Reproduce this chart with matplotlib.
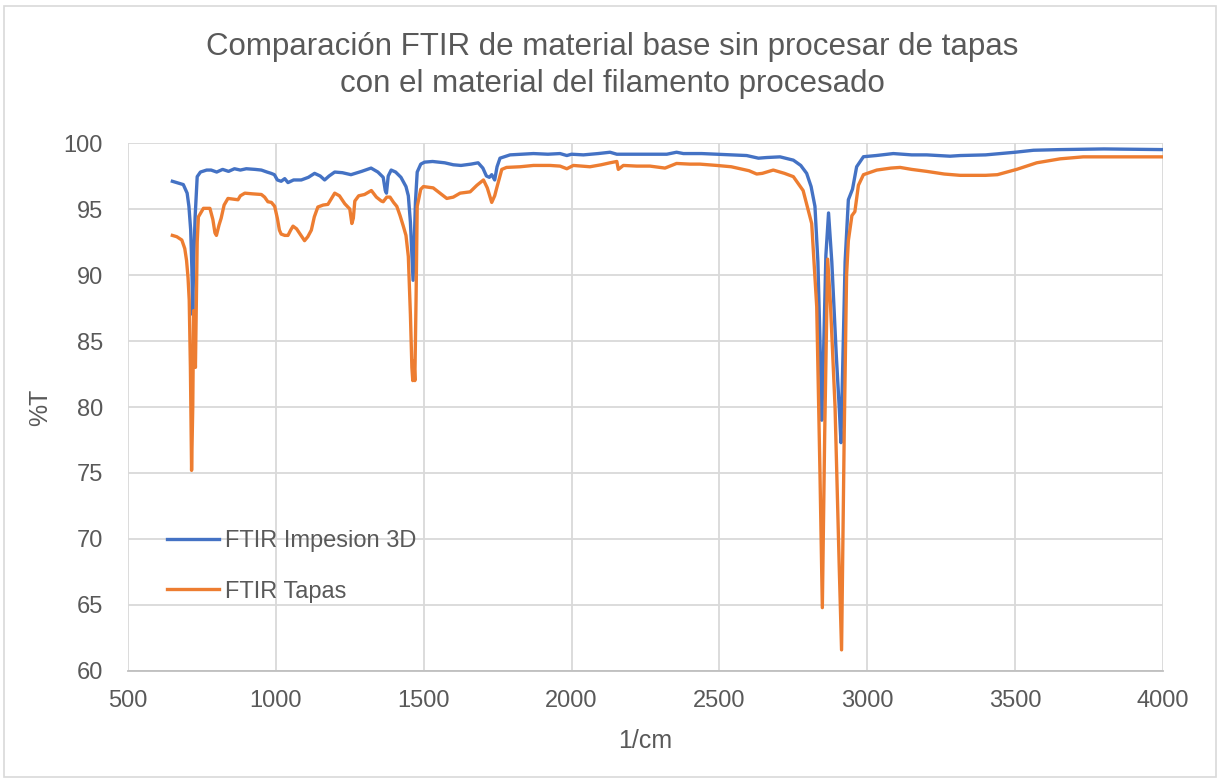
import matplotlib
matplotlib.use("Agg")
import matplotlib.pyplot as plt
from matplotlib.patches import Rectangle

# wavenumber (1/cm) and %T
impresion_x = [650, 665, 687, 700, 706, 712, 716, 719, 722, 727, 734, 745, 766, 781, 800,
               820, 840, 860, 880, 900, 930, 951, 970, 984, 995, 1005, 1018, 1030, 1041,
               1060, 1086, 1110, 1131, 1150, 1165, 1180, 1199, 1225, 1254, 1290, 1322,
               1345, 1363, 1370, 1374, 1380, 1390, 1405, 1423, 1440, 1448, 1455, 1460,
               1464, 1468, 1472, 1478, 1490, 1503, 1530, 1571, 1600, 1626, 1660, 1684,
               1700, 1712, 1722, 1730, 1740, 1748, 1758, 1792, 1830, 1871, 1920, 1961,
               1984, 2000, 2040, 2090, 2130, 2153, 2200, 2265, 2322, 2355, 2378, 2440,
               2491, 2547, 2592, 2632, 2660, 2705, 2750, 2775, 2795, 2810, 2823, 2833,
               2840, 2846, 2852, 2860, 2869, 2880, 2895, 2905, 2911, 2918, 2925, 2936,
               2950, 2964, 2987, 3030, 3088, 3150, 3201, 3280, 3314, 3400, 3449, 3500,
               3562, 3652, 3800, 4000]
impresion_t = [97.1, 97.0, 96.85, 96.2, 95.2, 93.4, 90.5, 87.0, 91.0, 94.4, 97.45, 97.8,
               97.95, 97.95, 97.8, 98.0, 97.85, 98.05, 97.95, 98.05, 98.0, 97.95, 97.8,
               97.7, 97.6, 97.2, 97.1, 97.3, 97.0, 97.2, 97.2, 97.4, 97.7, 97.5, 97.2,
               97.5, 97.8, 97.75, 97.6, 97.85, 98.1, 97.8, 97.4, 96.4, 96.2, 97.5, 97.95,
               97.8, 97.4, 96.7, 96.0, 94.0, 91.5, 89.6, 92.5, 95.5, 97.8, 98.4, 98.55,
               98.6, 98.5, 98.35, 98.3, 98.4, 98.5, 98.1, 97.5, 97.4, 97.6, 97.2, 98.2,
               98.85, 99.1, 99.15, 99.2, 99.15, 99.2, 99.05, 99.15, 99.1, 99.2, 99.3,
               99.15, 99.15, 99.15, 99.15, 99.3, 99.2, 99.2, 99.15, 99.1, 99.05, 98.85,
               98.9, 98.95, 98.7, 98.3, 97.7, 96.7, 95.2, 91.0, 85.0, 79.0, 84.0, 91.5,
               94.7, 91.0, 84.0, 80.0, 77.3, 84.0, 91.0, 95.7, 96.5, 98.2, 98.96, 99.05,
               99.2, 99.1, 99.1, 99.0, 99.05, 99.1, 99.2, 99.3, 99.45, 99.5, 99.55, 99.5]

tapas_x = [650, 665, 682, 692, 698, 703, 707, 711, 715, 719, 722, 725, 728, 731, 734, 738,
           755, 777, 787, 794, 799, 808, 815, 825, 838, 855, 872, 880, 895, 920, 951, 962,
           973, 985, 996, 1005, 1012, 1018, 1030, 1041, 1050, 1058, 1070, 1085, 1097,
           1108, 1120, 1130, 1142, 1160, 1176, 1188, 1199, 1215, 1233, 1250, 1257, 1262,
           1267, 1280, 1300, 1323, 1340, 1357, 1363, 1375, 1386, 1398, 1409, 1420, 1431,
           1440, 1448, 1455, 1460, 1463, 1467, 1470, 1474, 1478, 1490, 1499, 1532, 1555,
           1578, 1600, 1623, 1657, 1680, 1702, 1715, 1730, 1740, 1747, 1764, 1780, 1826,
           1871, 1927, 1961, 1984, 2006, 2062, 2100, 2130, 2153, 2158, 2175, 2220, 2265,
           2316, 2355, 2400, 2434, 2491, 2540, 2570, 2600, 2626, 2645, 2682, 2720, 2750,
           2783, 2812, 2829, 2840, 2848, 2856, 2866, 2875, 2891, 2905, 2913, 2922, 2930,
           2936, 2948, 2958, 2970, 2987, 3032, 3080, 3111, 3150, 3201, 3260, 3314, 3400,
           3440, 3505, 3573, 3652, 3730, 4000]
tapas_t = [93.0, 92.9, 92.65, 92.0, 91.1, 89.8, 88.1, 83.0, 75.2, 80.0, 87.3, 85.0, 83.0,
           88.0, 92.5, 94.4, 95.05, 95.05, 94.2, 93.2, 93.0, 93.8, 94.3, 95.3, 95.8, 95.75,
           95.7, 96.0, 96.2, 96.15, 96.1, 95.9, 95.55, 95.5, 95.2, 94.3, 93.4, 93.1, 93.0,
           93.0, 93.4, 93.7, 93.5, 93.0, 92.6, 92.9, 93.4, 94.4, 95.15, 95.3, 95.35, 95.8,
           96.2, 96.0, 95.4, 95.0, 93.9, 94.3, 95.6, 96.0, 96.1, 96.4, 95.9, 95.6, 95.55,
           95.9, 95.9, 95.5, 95.2, 94.5, 93.7, 93.0, 91.4, 87.0, 83.0, 82.0, 83.5, 82.0,
           88.0, 95.2, 96.5, 96.7, 96.6, 96.2, 95.8, 95.9, 96.2, 96.3, 96.8, 97.2, 96.6,
           95.5, 96.0, 96.6, 98.0, 98.15, 98.2, 98.3, 98.3, 98.25, 98.05, 98.3, 98.2,
           98.35, 98.5, 98.6, 98.0, 98.3, 98.25, 98.25, 98.1, 98.45, 98.4, 98.4, 98.3,
           98.2, 98.05, 97.9, 97.65, 97.7, 97.95, 97.7, 97.45, 96.4, 93.9, 87.6, 75.0,
           64.8, 78.0, 91.2, 88.0, 80.0, 68.0, 61.6, 78.0, 90.0, 92.6, 94.5, 94.8, 96.8,
           97.6, 97.95, 98.1, 98.15, 98.0, 97.85, 97.65, 97.55, 97.55, 97.6, 98.0, 98.5,
           98.8, 98.95, 98.95]

x_ticks = [500, 1000, 1500, 2000, 2500, 3000, 3500, 4000]
y_ticks = [60, 65, 70, 75, 80, 85, 90, 95, 100]

TEXT = "#595959"
GRID = "#d9d9d9"
plt.rcParams["font.family"] = ["Liberation Sans", "DejaVu Sans"]

fig = plt.figure(figsize=(12.24, 7.8), dpi=100)
ax = fig.add_axes([128 / 1224, 1 - 671 / 780, (1163 - 128) / 1224, (671 - 143) / 780])

ax.plot(impresion_x, impresion_t, color="#4472C4", lw=2.4, label="FTIR Impesion 3D",
        solid_joinstyle="round")
ax.plot(tapas_x, tapas_t, color="#ED7D31", lw=2.4, label="FTIR Tapas",
        solid_joinstyle="round")

ax.set_xlim(500, 4000)
ax.set_ylim(60, 100)
ax.set_xticks(x_ticks)
ax.set_yticks(y_ticks)
ax.grid(True, color=GRID, lw=1.3)
ax.set_axisbelow(True)
for side in ["top", "right", "left"]:
    ax.spines[side].set_visible(False)
ax.spines["bottom"].set_color("#bfbfbf")
ax.spines["bottom"].set_linewidth(1.3)
ax.tick_params(length=0, labelsize=17, labelcolor=TEXT)
ax.tick_params(axis="y", pad=18)
ax.tick_params(axis="x", pad=14)

ax.set_xlabel("1/cm", fontsize=18, color=TEXT, labelpad=12)
ax.set_ylabel("%T", fontsize=18, color=TEXT, labelpad=8)

fig.text(0.5, 1 - 47 / 780, "Comparación FTIR de material base sin procesar de tapas",
         ha="center", va="center", fontsize=22.5, color=TEXT)
fig.text(0.5, 1 - 84 / 780, "con el material del filamento procesado",
         ha="center", va="center", fontsize=22.5, color=TEXT)

leg = ax.legend(loc="center left", bbox_to_anchor=(0.038, 0.198), frameon=False,
                fontsize=17, handlelength=2.2, handletextpad=0.25, labelspacing=1.2,
                borderpad=0, borderaxespad=0)
for t in leg.get_texts():
    t.set_color(TEXT)

# light border round the whole chart area
fig.patches.append(Rectangle((4 / 1224, 3 / 780), 1212 / 1224, 771 / 780,
                             transform=fig.transFigure, fill=False,
                             edgecolor="#d9d9d9", lw=1.2))

fig.savefig("out.png", dpi=100)
